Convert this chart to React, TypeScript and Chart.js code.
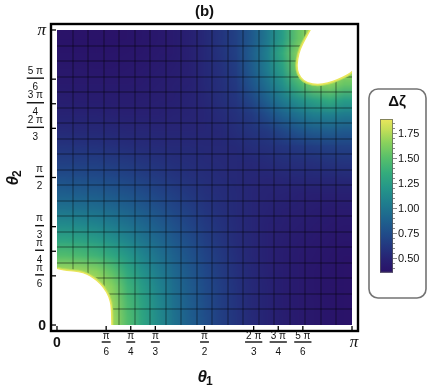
import { useEffect, useRef } from "react";
import { Chart, registerables } from "chart.js";

Chart.register(...registerables);

// Mesh: the plot is divided into 19 x 19 mesh cells (θ in units of π)
const meshDivisions = 19;

// Δζ read per mesh cell. Rows: θ2 = π (top) ... θ2 = 0 (bottom); columns: θ1 = 0 ... π
const deltaZetaRows: (number | null)[][] = [
  [0.37, 0.37, 0.369, 0.373, 0.383, 0.397, 0.416, 0.44, 0.48, 0.532, 0.6, 0.68, 0.82, 1.02, 1.24, 1.55, 1.7, null, null],
  [0.39, 0.39, 0.386, 0.39, 0.397, 0.408, 0.425, 0.442, 0.478, 0.526, 0.595, 0.672, 0.85, 1.06, 1.34, 1.65, null, null, null],
  [0.41, 0.41, 0.408, 0.409, 0.415, 0.425, 0.439, 0.456, 0.482, 0.526, 0.58, 0.656, 0.83, 1.04, 1.26, 1.6, null, null, 1.7],
  [0.43, 0.43, 0.428, 0.426, 0.433, 0.439, 0.453, 0.467, 0.487, 0.526, 0.573, 0.634, 0.788, 0.965, 1.16, 1.42, 1.6, 1.65, 1.55],
  [0.46, 0.458, 0.456, 0.452, 0.456, 0.459, 0.467, 0.478, 0.496, 0.524, 0.563, 0.609, 0.708, 0.868, 1.025, 1.16, 1.26, 1.34, 1.24],
  [0.5, 0.497, 0.495, 0.49, 0.487, 0.486, 0.487, 0.495, 0.501, 0.516, 0.549, 0.584, 0.632, 0.749, 0.868, 0.965, 1.04, 1.06, 1.02],
  [0.54, 0.535, 0.535, 0.528, 0.52, 0.52, 0.515, 0.518, 0.517, 0.523, 0.531, 0.564, 0.596, 0.632, 0.708, 0.788, 0.83, 0.85, 0.82],
  [0.6, 0.597, 0.59, 0.58, 0.568, 0.555, 0.547, 0.541, 0.538, 0.533, 0.533, 0.538, 0.564, 0.584, 0.609, 0.634, 0.656, 0.672, 0.68],
  [0.67, 0.665, 0.66, 0.645, 0.63, 0.605, 0.588, 0.571, 0.558, 0.549, 0.538, 0.533, 0.531, 0.549, 0.563, 0.573, 0.58, 0.595, 0.6],
  [0.76, 0.755, 0.74, 0.725, 0.7, 0.668, 0.64, 0.61, 0.583, 0.563, 0.549, 0.533, 0.523, 0.516, 0.524, 0.526, 0.526, 0.526, 0.532],
  [0.86, 0.85, 0.84, 0.815, 0.785, 0.745, 0.7, 0.66, 0.62, 0.583, 0.558, 0.538, 0.517, 0.501, 0.496, 0.487, 0.482, 0.478, 0.48],
  [0.98, 0.97, 0.95, 0.92, 0.875, 0.826, 0.77, 0.71, 0.66, 0.61, 0.571, 0.541, 0.518, 0.495, 0.478, 0.467, 0.456, 0.442, 0.44],
  [1.13, 1.115, 1.085, 1.035, 0.975, 0.913, 0.84, 0.77, 0.7, 0.64, 0.588, 0.547, 0.515, 0.487, 0.467, 0.453, 0.439, 0.425, 0.416],
  [1.3, 1.28, 1.235, 1.17, 1.09, 1.0, 0.913, 0.826, 0.745, 0.668, 0.605, 0.555, 0.52, 0.486, 0.459, 0.439, 0.425, 0.408, 0.397],
  [1.48, 1.45, 1.4, 1.32, 1.21, 1.09, 0.975, 0.875, 0.785, 0.7, 0.63, 0.568, 0.52, 0.487, 0.456, 0.433, 0.415, 0.397, 0.383],
  [1.72, 1.7, 1.65, 1.52, 1.32, 1.17, 1.035, 0.92, 0.815, 0.725, 0.645, 0.58, 0.528, 0.49, 0.452, 0.426, 0.409, 0.39, 0.373],
  [null, null, 1.75, 1.65, 1.4, 1.235, 1.085, 0.95, 0.84, 0.74, 0.66, 0.59, 0.535, 0.495, 0.456, 0.428, 0.408, 0.386, 0.369],
  [null, null, null, 1.7, 1.45, 1.28, 1.115, 0.97, 0.85, 0.755, 0.665, 0.597, 0.535, 0.497, 0.458, 0.43, 0.41, 0.39, 0.37],
  [null, null, null, 1.72, 1.48, 1.3, 1.13, 0.98, 0.86, 0.76, 0.67, 0.6, 0.54, 0.5, 0.46, 0.43, 0.41, 0.39, 0.37],
];

// Boundaries of the regions where Δζ is undefined (θ in units of π)
const lowerGapTheta1 = [0, 0.0105, 0.0553, 0.0895, 0.1121, 0.1347, 0.1579, 0.1747, 0.1826, 0.1837];
const lowerGapTheta2 = [0.1895, 0.1853, 0.1816, 0.1758, 0.1642, 0.15, 0.1247, 0.0963, 0.0621, 0];
const upperGapTheta1 = [0.8605, 0.8437, 0.8263, 0.8174, 0.8153, 0.8263, 0.8495, 0.8837, 0.9174, 0.9516, 0.9858, 1.0];
const upperGapTheta2 = [1.0, 0.9695, 0.9358, 0.9016, 0.8674, 0.8395, 0.8221, 0.8163, 0.8221, 0.8337, 0.8505, 0.8616];

// Axis ticks (units of π)
const tickValues = [0, 1 / 6, 1 / 4, 1 / 3, 1 / 2, 2 / 3, 3 / 4, 5 / 6, 1];
const tickNumerators = ["0", "π", "π", "π", "π", "2 π", "3 π", "5 π", "π"];
const tickDenominators = ["", "6", "4", "3", "2", "3", "4", "6", ""];

// Colour bar
const colorbarMin = 0.356;
const colorbarMax = 1.893;
const colorbarTicks = [0.5, 0.75, 1.0, 1.25, 1.5, 1.75];
const colorbarTickLabels = ["0.50", "0.75", "1.00", "1.25", "1.50", "1.75"];

const titleText = "(b)";
const legendTitle = "Δζ";

const colorStops: [number, number, number, number][] = [
  [0.0, 42, 17, 104],
  [0.08, 40, 32, 114],
  [0.16, 36, 52, 126],
  [0.25, 32, 75, 137],
  [0.35, 30, 100, 142],
  [0.45, 31, 125, 142],
  [0.55, 36, 150, 137],
  [0.65, 52, 172, 124],
  [0.75, 88, 192, 106],
  [0.85, 140, 210, 92],
  [0.93, 195, 222, 88],
  [1.0, 234, 230, 92],
];

function rgbAt(t: number): [number, number, number] {
  const tt = Math.max(0, Math.min(1, t));
  for (let k = 1; k < colorStops.length; k++) {
    const a = colorStops[k - 1];
    const b = colorStops[k];
    if (tt <= b[0]) {
      const f = (tt - a[0]) / (b[0] - a[0]);
      return [
        Math.round(a[1] + (b[1] - a[1]) * f),
        Math.round(a[2] + (b[2] - a[2]) * f),
        Math.round(a[3] + (b[3] - a[3]) * f),
      ];
    }
  }
  const l = colorStops[colorStops.length - 1];
  return [l[1], l[2], l[3]];
}
function rgbFor(v: number) {
  return rgbAt((v - colorbarMin) / (colorbarMax - colorbarMin));
}
function colorFor(v: number): string {
  const c = rgbFor(v);
  return `rgb(${c[0]},${c[1]},${c[2]})`;
}

const cellPoints: { x: number; y: number; v: number | null }[] = [];
deltaZetaRows.forEach((row, r) => {
  const j = meshDivisions - 1 - r;
  row.forEach((v, i) => {
    cellPoints.push({ x: (i + 0.5) / meshDivisions, y: (j + 0.5) / meshDivisions, v });
  });
});

const SANS = "'Liberation Sans', Arial, sans-serif";
const SERIF = "'Liberation Serif', 'Times New Roman', serif";

function smoothPath(ctx: CanvasRenderingContext2D, pts: [number, number][]) {
  ctx.moveTo(pts[0][0], pts[0][1]);
  for (let k = 1; k < pts.length - 1; k++) {
    const mx = (pts[k][0] + pts[k + 1][0]) / 2;
    const my = (pts[k][1] + pts[k + 1][1]) / 2;
    ctx.quadraticCurveTo(pts[k][0], pts[k][1], mx, my);
  }
  const last = pts[pts.length - 1];
  ctx.lineTo(last[0], last[1]);
}

const heatmapPlugin = {
  id: "heatmapCells",
  beforeDatasetsDraw(chart: any) {
    const ctx: CanvasRenderingContext2D = chart.ctx;
    const xs = chart.scales.x;
    const ys = chart.scales.y;
    const L = Math.round(xs.getPixelForValue(0));
    const R = Math.round(xs.getPixelForValue(1));
    const T = Math.round(ys.getPixelForValue(1));
    const B = Math.round(ys.getPixelForValue(0));
    ctx.save();
    ctx.beginPath();
    ctx.rect(L, T, R - L, B - T);
    ctx.clip();
    // cell colours -> small image (one pixel per mesh cell), shaded smoothly onto the scale area
    const n = meshDivisions;
    const off = document.createElement("canvas");
    off.width = n;
    off.height = n;
    const octx = off.getContext("2d")!;
    const img = octx.createImageData(n, n);
    const data = chart.data.datasets[0].data as { x: number; y: number; v: number | null }[];
    for (const p of data) {
      const i = Math.floor(p.x * n);
      const row = n - 1 - Math.floor(p.y * n);
      const c = rgbFor(p.v === null ? colorbarMax : p.v);
      const o = (row * n + i) * 4;
      img.data[o] = c[0];
      img.data[o + 1] = c[1];
      img.data[o + 2] = c[2];
      img.data[o + 3] = 255;
    }
    octx.putImageData(img, 0, 0);
    ctx.imageSmoothingEnabled = true;
    ctx.imageSmoothingQuality = "low";
    ctx.drawImage(off, L, T, R - L, B - T);
    // mesh lines
    ctx.strokeStyle = "rgba(0,0,0,0.33)";
    ctx.lineWidth = 1.4;
    for (let k = 1; k < meshDivisions; k++) {
      const px = Math.round(xs.getPixelForValue(k / meshDivisions));
      ctx.beginPath();
      ctx.moveTo(px, T);
      ctx.lineTo(px, B);
      ctx.stroke();
      const py = Math.round(ys.getPixelForValue(k / meshDivisions));
      ctx.beginPath();
      ctx.moveTo(L, py);
      ctx.lineTo(R, py);
      ctx.stroke();
    }
    // undefined regions (white) with bright rim
    const gaps: [number[], number[], [number, number]][] = [
      [lowerGapTheta1, lowerGapTheta2, [0, 0]],
      [upperGapTheta1, upperGapTheta2, [1, 1]],
    ];
    for (const [g1, g2, corner] of gaps) {
      const pts: [number, number][] = g1.map((t, k) => [xs.getPixelForValue(t), ys.getPixelForValue(g2[k])]);
      ctx.lineJoin = "round";
      ctx.strokeStyle = colorFor(1.75);
      ctx.lineWidth = 5;
      ctx.beginPath();
      smoothPath(ctx, pts);
      ctx.stroke();
      ctx.strokeStyle = colorFor(1.89);
      ctx.lineWidth = 3;
      ctx.beginPath();
      smoothPath(ctx, pts);
      ctx.stroke();
      ctx.fillStyle = "#ffffff";
      ctx.beginPath();
      smoothPath(ctx, pts);
      ctx.lineTo(xs.getPixelForValue(corner[0]), ys.getPixelForValue(corner[1]));
      ctx.closePath();
      ctx.fill();
    }
    ctx.restore();
  },
  afterDraw(chart: any) {
    const ctx: CanvasRenderingContext2D = chart.ctx;
    const xs = chart.scales.x;
    const ys = chart.scales.y;
    const area = chart.chartArea;
    ctx.save();
    // frame
    ctx.strokeStyle = "#000";
    ctx.lineWidth = 2.4;
    ctx.strokeRect(area.left, area.top, area.right - area.left, area.bottom - area.top);
    // ticks
    ctx.lineWidth = 1.3;
    tickValues.forEach((t) => {
      const px = xs.getPixelForValue(t);
      ctx.beginPath();
      ctx.moveTo(px, area.bottom);
      ctx.lineTo(px, area.bottom - 5);
      ctx.stroke();
      const py = ys.getPixelForValue(t);
      ctx.beginPath();
      ctx.moveTo(area.left, py);
      ctx.lineTo(area.left + 5, py);
      ctx.stroke();
    });
    // tick labels
    ctx.fillStyle = "#111";
    ctx.textBaseline = "middle";
    const xBar = area.bottom + 11;
    tickValues.forEach((t, k) => {
      const num = tickNumerators[k];
      const den = tickDenominators[k];
      const px = xs.getPixelForValue(t);
      const py = ys.getPixelForValue(t);
      if (den === "") {
        if (num === "0") ctx.font = `bold 14px ${SANS}`;
        else ctx.font = `italic 17px ${SERIF}`;
        ctx.textAlign = "center";
        ctx.fillText(num, px + (num === "π" ? 2 : 0), area.bottom + 12);
        ctx.textAlign = "right";
        ctx.fillText(num, 46, py + 1);
      } else {
        ctx.font = `10px ${SANS}`;
        const w = Math.max(ctx.measureText(num).width, ctx.measureText(den).width) + 2;
        ctx.textAlign = "center";
        // x axis
        ctx.fillText(num, px, xBar - 6);
        ctx.fillText(den, px, xBar + 10.5);
        ctx.fillRect(px - w / 2, xBar - 0.7, w, 1.4);
        // y axis
        const cx = 44 - w / 2;
        ctx.fillText(num, cx, py - 8);
        ctx.fillText(den, cx, py + 8.5);
        ctx.fillRect(cx - w / 2, py - 1.7, w, 1.4);
      }
    });
    // axis titles
    ctx.fillStyle = "#111";
    ctx.textAlign = "left";
    ctx.font = `bold italic 17px ${SANS}`;
    const t1w = ctx.measureText("θ").width;
    const t1x = (xs.getPixelForValue(0) + xs.getPixelForValue(1)) / 2 - 7;
    ctx.fillText("θ", t1x, 377);
    ctx.font = `bold 12px ${SANS}`;
    ctx.fillText("1", t1x + t1w - 1, 382);
    ctx.save();
    ctx.translate(13, (ys.getPixelForValue(0) + ys.getPixelForValue(1)) / 2 + 1);
    ctx.rotate(-Math.PI / 2);
    ctx.font = `bold italic 17px ${SANS}`;
    ctx.fillText("θ", -7, 0);
    ctx.font = `bold 12px ${SANS}`;
    ctx.fillText("2", -7 + t1w - 1, 5);
    ctx.restore();
    // title
    ctx.textAlign = "center";
    ctx.font = `bold 15px ${SANS}`;
    ctx.fillText(titleText, (xs.getPixelForValue(0) + xs.getPixelForValue(1)) / 2, 12);

    // legend box
    ctx.strokeStyle = "#737373";
    ctx.lineWidth = 1.6;
    ctx.beginPath();
    (ctx as any).roundRect(369, 89, 57, 209, 9);
    ctx.stroke();
    ctx.font = `bold 15px ${SANS}`;
    ctx.fillStyle = "#111";
    ctx.fillText(legendTitle, 397, 102);
    // colour bar
    const barL = 380, barR = 393, barT = 119, barB = 272.7;
    const pxPerUnit = (barB - barT) / (colorbarMax - colorbarMin);
    const grad = ctx.createLinearGradient(0, barB, 0, barT);
    colorStops.forEach((s) => grad.addColorStop(s[0], `rgb(${s[1]},${s[2]},${s[3]})`));
    ctx.fillStyle = grad;
    ctx.fillRect(barL, barT, barR - barL, barB - barT);
    ctx.strokeStyle = "rgba(90,90,90,0.7)";
    ctx.lineWidth = 1;
    ctx.strokeRect(barL + 0.5, barT + 0.5, barR - barL - 1, barB - barT - 1);
    ctx.strokeStyle = "#8a8a8a";
    for (let v = 0.4; v <= colorbarMax + 1e-9; v += 0.05) {
      const y = barB - (v - colorbarMin) * pxPerUnit;
      const major = colorbarTicks.some((c) => Math.abs(c - v) < 1e-6);
      ctx.beginPath();
      ctx.moveTo(barR, Math.round(y) + 0.5);
      ctx.lineTo(barR + (major ? 4 : 2), Math.round(y) + 0.5);
      ctx.stroke();
    }
    ctx.fillStyle = "#111";
    ctx.textAlign = "left";
    ctx.font = `11px ${SANS}`;
    colorbarTicks.forEach((v, k) => {
      const y = barB - (v - colorbarMin) * pxPerUnit;
      ctx.fillText(colorbarTickLabels[k], 398, y + 0.5);
    });
    ctx.restore();
  },
};

export default function App() {
  const canvasRef = useRef<HTMLCanvasElement | null>(null);
  useEffect(() => {
    document.body.style.margin = "0";
    const canvas = canvasRef.current;
    if (!canvas) return;
    const chart = new Chart(canvas, {
      type: "scatter",
      data: {
        datasets: [
          {
            label: "Δζ",
            data: cellPoints as any,
            pointRadius: 0,
            pointHoverRadius: 0,
            pointHitRadius: 0,
          },
        ],
      },
      options: {
        animation: false,
        responsive: false,
        maintainAspectRatio: false,
        events: [],
        layout: { padding: { left: 51, right: 70, top: 24, bottom: 59 } },
        plugins: { legend: { display: false }, tooltip: { enabled: false } },
        scales: {
          x: { type: "linear", min: -0.0203, max: 1.0203, display: false },
          y: { type: "linear", min: -0.0203, max: 1.0203, display: false },
        },
      },
      plugins: [heatmapPlugin],
    });
    return () => chart.destroy();
  }, []);
  return (
    <div style={{ width: 428, height: 390, background: "#fff" }}>
      <canvas ref={canvasRef} width={428} height={390} style={{ display: "block" }} />
    </div>
  );
}
